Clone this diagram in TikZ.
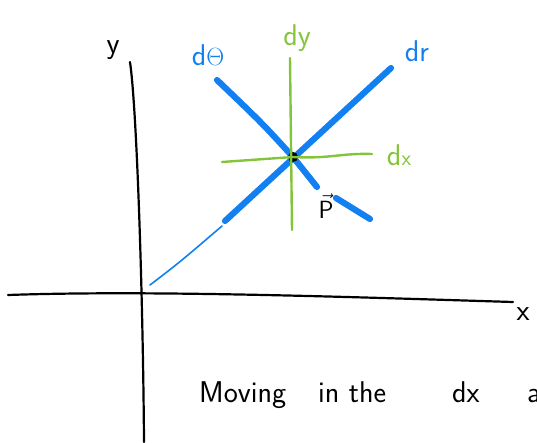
\documentclass[tikz,border=0pt]{standalone}
\usepackage{amsmath}
\usepackage{xcolor}
\usetikzlibrary{positioning}
\definecolor{penblue}{RGB}{18,128,240}
\definecolor{pengreen}{RGB}{132,196,58}

\begin{document}
\begin{tikzpicture}[
        x=1pt, y=-1pt,
        every node/.style={font=\fontsize{30}{34}\selectfont\sffamily, inner sep=0pt},
        axis/.style={draw=black, line width=2.2pt, line cap=round},
        bluestroke/.style={draw=penblue, line width=6.2pt, line cap=round},
        thinstroke/.style={draw=penblue, line width=1.6pt, line cap=round},
        greenstroke/.style={draw=pengreen, line width=2.4pt, line cap=round},
        bluelabel/.style={text=penblue},
        greenlabel/.style={text=pengreen},
        blacklabel/.style={text=black},
        captionword/.style={text=black, anchor=base west},
      ]
      \useasboundingbox (0,0) rectangle (537,442);

      % points of the sketch
      \coordinate (ytop) at (130,62);
      \coordinate (ybot) at (144,442);
      \coordinate (xleft) at (8,295);
      \coordinate (xright) at (513,302);
      \coordinate (orig) at (150,285);
      \coordinate (c) at (293,157);
      \coordinate (drlow) at (225,221);
      \coordinate (drhigh) at (391,68);
      \coordinate (drtail) at (222,226);
      \coordinate (dthtop) at (217,80);
      \coordinate (dthmid) at (317,187);
      \coordinate (dthlowa) at (336,198);
      \coordinate (dthlowb) at (370,219);
      \coordinate (dytop) at (290,58);
      \coordinate (dybot) at (292,230);
      \coordinate (dxleft) at (222,162);
      \coordinate (dxright) at (372,154);

      % axes
      \draw[axis] (ytop) .. controls (137,110) and (143,300) .. (ybot);
      \draw[axis] (xleft) .. controls (150,290) and (350,297) .. (xright);

      % blue strokes
      \draw[thinstroke] (orig) .. controls (180,262) .. (drtail);
      \draw[bluestroke] (drlow) -- (drhigh);
      \draw[bluestroke] (dthtop) .. controls (262,123) .. (c) -- (dthmid);
      \draw[bluestroke] (dthlowa) -- (dthlowb);

      % point P
      \fill[black] (c) circle (5pt);

      % green strokes
      \draw[greenstroke] (dytop) -- (dybot);
      \draw[greenstroke] (dxleft) -- (c) .. controls (330,159) and (340,153) .. (dxright);

      % labels
      \node[blacklabel] (ylabel) at (113,50) {y};
      \node[blacklabel] (xlabel) at (523,314) {x};
      \node[bluelabel] (dthlabel) at (208,55) {d$\Theta$};
      \node[greenlabel] (dylabel) at (297,38) {dy};
      \node[bluelabel] (drlabel) at (417,51) {dr};
      \node[greenlabel] (dxlabel) at (399,155) {d{\fontsize{22}{24}\selectfont x}};
      \node[blacklabel] (plabel) at (326,206) {$\vec{\mathsf{P}}$};

      % caption, cut off at the right edge
      \node[captionword] (moving) at (199,402) {Moving};
      \node[captionword] (inthe) at (318,402) {in the};
      \node[captionword] (dxword) at (452,402) {dx};
      \node[captionword] (aword) at (527,402) {a};

    \end{tikzpicture}
\end{document}
